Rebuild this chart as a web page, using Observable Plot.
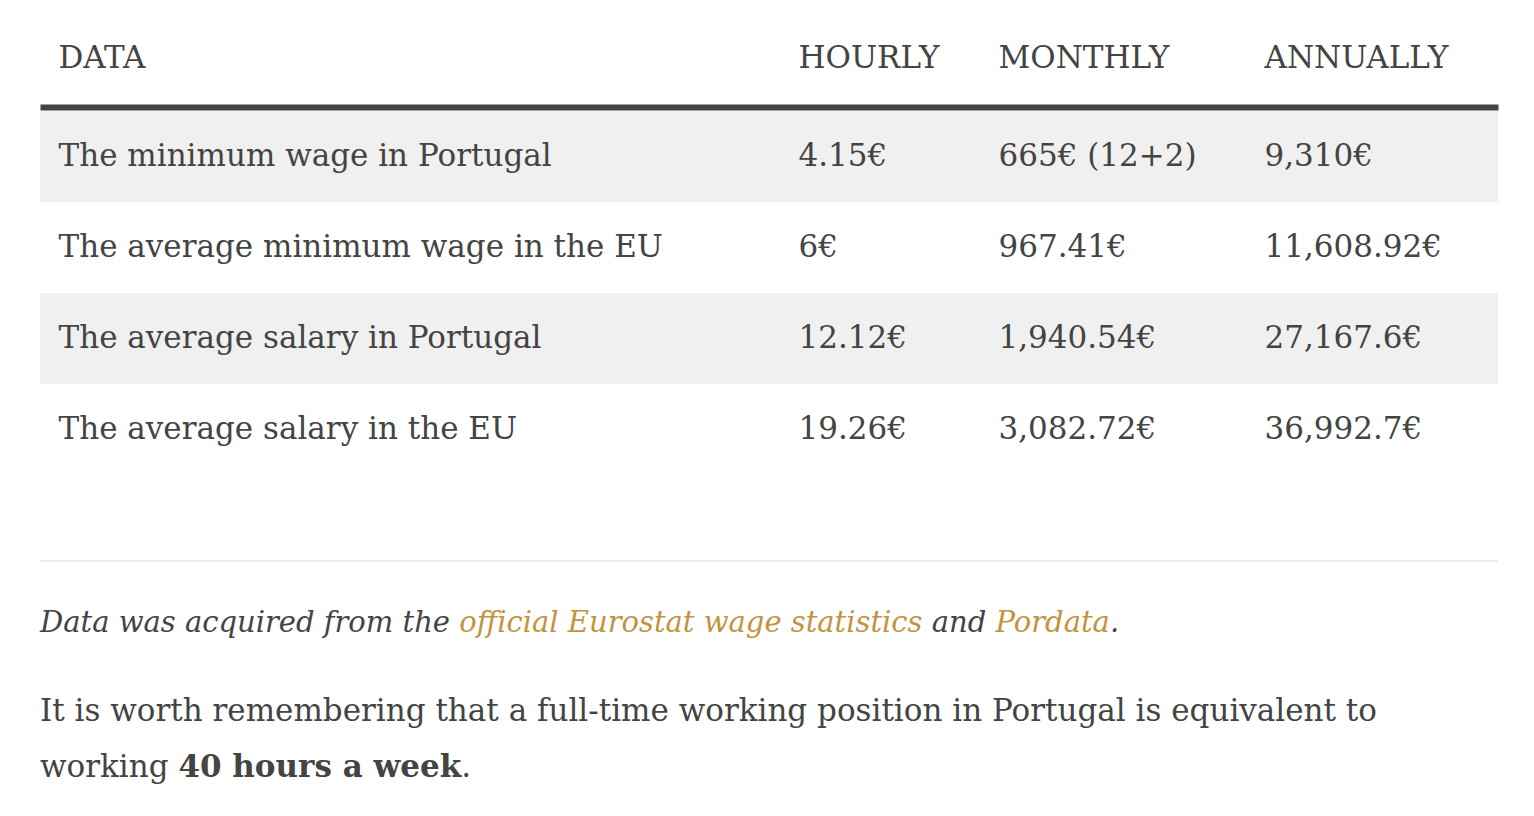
<!DOCTYPE html>
<html>
<head>
<meta charset="utf-8">
<script src="https://cdn.jsdelivr.net/npm/d3@7"></script>
<script src="https://cdn.jsdelivr.net/npm/@observablehq/plot@0.6"></script>
<style>
  html, body { margin: 0; padding: 0; background: #fff; }
  #wrap { position: relative; width: 1534px; height: 816px; font-family: "DejaVu Serif", serif; color: #444; }
  #chart { position: absolute; left: 0; top: 0; }
  .sep { position: absolute; left: 40px; width: 1458px; top: 560px; height: 2px; background: #ececec; }
  .p { position: absolute; left: 40px; width: 1480px; line-height: 56px; margin: 0; }
  .src { top: 594px; font-style: italic; font-size: 29px; }
  .note { top: 682px; font-size: 31px; }
  .gold { color: #c4933f; }
  b { font-weight: bold; }
</style>
</head>
<body>
<div id="wrap">
  <div id="chart"></div>
  <div class="sep"></div>
  <p class="p src">Data was acquired from the <span class="gold">official Eurostat wage statistics</span> and <span class="gold">Pordata</span>.</p>
  <p class="p note">It is worth remembering that a full-time working position in Portugal is equivalent to<br>working <b>40 hours a week</b>.</p>
</div>
<script>
// ---- data ----
const columns = ["DATA", "HOURLY", "MONTHLY", "ANNUALLY"];
const rowLabels = [
  "The minimum wage in Portugal",
  "The average minimum wage in the EU",
  "The average salary in Portugal",
  "The average salary in the EU"
];
const hourly = ["4.15€", "6€", "12.12€", "19.26€"];
const monthly = ["665€ (12+2)", "967.41€", "1,940.54€", "3,082.72€"];
const annually = ["9,310€", "11,608.92€", "27,167.6€", "36,992.7€"];

// ---- layout (column widths, like CSS table columns) ----
const colWidths = [740, 200, 266, 252];
const colStart = colWidths.map((w, i) => d3.sum(colWidths.slice(0, i)));
const tableWidth = d3.sum(colWidths);

const series = [rowLabels, hourly, monthly, annually];
const cells = [];
rowLabels.forEach((r, i) => {
  series.forEach((s, j) => cells.push({row: r, col: j, text: s[i]}));
});
const stripes = rowLabels.filter((r, i) => i % 2 === 0).map(r => ({row: r}));

const plot = Plot.plot({
  width: 1534,
  height: 490,
  marginLeft: 40,
  marginRight: 36,
  marginTop: 110,
  marginBottom: 15,
  style: {fontFamily: "DejaVu Serif, serif", color: "#444", background: "#fff"},
  x: {type: "linear", domain: [0, tableWidth], axis: null},
  y: {type: "band", domain: rowLabels, padding: 0, axis: null},
  marks: [
    Plot.barX(stripes, {x1: 0, x2: tableWidth, y: "row", fill: "#f0f0f0", insetTop: 0, insetBottom: 0}),
    Plot.frame({anchor: "top", stroke: "#444", strokeWidth: 6, strokeLinecap: "butt", dy: -3}),
    Plot.text(columns, {
      x: (d, i) => colStart[i], text: d => d, frameAnchor: "top", lineAnchor: "middle", dy: -52, dx: 18,
      textAnchor: "start", fontSize: 31, fill: "#444"
    }),
    Plot.text(cells, {
      x: d => colStart[d.col], y: "row", text: "text", dx: 18, dy: -1,
      textAnchor: "start", fontSize: 31, fill: "#444"
    })
  ]
});
document.getElementById("chart").appendChild(plot);
</script>
</body>
</html>
